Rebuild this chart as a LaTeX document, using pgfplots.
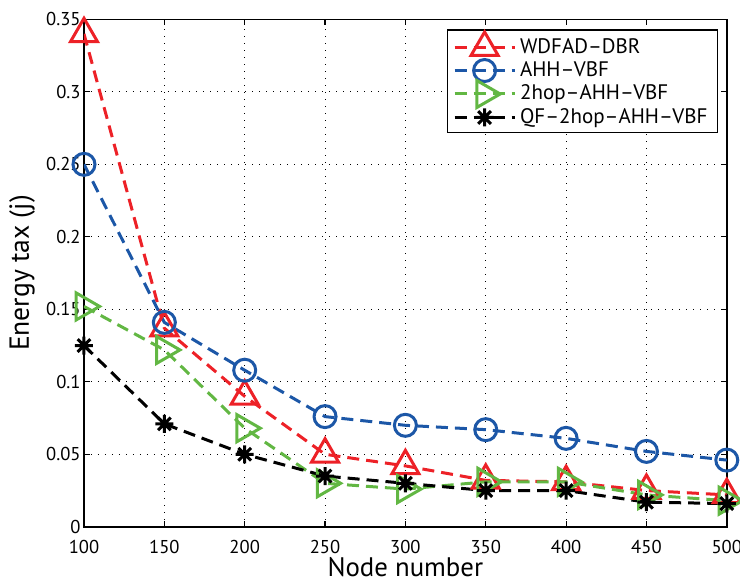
\documentclass[border=0pt]{standalone}
\usepackage{fontspec}
\setmainfont{PT Sans}
\usepackage{pgfplots}
\pgfplotsset{compat=1.18}
\definecolor{cred}{RGB}{237,33,39}
\definecolor{cblue}{RGB}{28,87,167}
\definecolor{cgreen}{RGB}{98,183,67}
% MATLAB-style eight-armed asterisk
\pgfdeclareplotmark{ast8}{%
  \pgfpathmoveto{\pgfqpoint{0pt}{\pgfplotmarksize}}%
  \pgfpathlineto{\pgfqpoint{0pt}{-\pgfplotmarksize}}%
  \pgfpathmoveto{\pgfqpoint{\pgfplotmarksize}{0pt}}%
  \pgfpathlineto{\pgfqpoint{-\pgfplotmarksize}{0pt}}%
  \pgfpathmoveto{\pgfqpoint{0.707\pgfplotmarksize}{0.707\pgfplotmarksize}}%
  \pgfpathlineto{\pgfqpoint{-0.707\pgfplotmarksize}{-0.707\pgfplotmarksize}}%
  \pgfpathmoveto{\pgfqpoint{0.707\pgfplotmarksize}{-0.707\pgfplotmarksize}}%
  \pgfpathlineto{\pgfqpoint{-0.707\pgfplotmarksize}{0.707\pgfplotmarksize}}%
  \pgfusepathqstroke}
\begin{document}
\begin{tikzpicture}
\begin{axis}[
    scale only axis,
    width=321.4pt, height=253.7pt,
    xmin=100, xmax=500, ymin=0, ymax=0.35,
    xtick={100,150,200,250,300,350,400,450,500},
    ytick={0,0.05,0.1,0.15,0.2,0.25,0.3,0.35},
    yticklabel style={/pgf/number format/fixed,/pgf/number format/precision=2,
        anchor=east, inner xsep=1.5pt},
    /pgf/number format/assume math mode=true,
    ticklabel style={font=\fontsize{9.3}{11}\selectfont},
    xticklabel style={inner ysep=1pt, yshift=-5.6pt},
    tick align=inside, major tick length=3pt,
    tick style={black, line width=0.6pt},
    axis line style={line width=0.8pt},
    grid=major,
    major grid style={black, line width=0.5pt, dash pattern=on 0.5pt off 3pt},
    xlabel={Node number}, ylabel={Energy tax (j)},
    every axis x label/.style={at={(rel axis cs:0.5,0)}, anchor=base, yshift=-25pt,
        font=\fontsize{13.4}{16}\selectfont, inner sep=1pt},
    every axis y label/.style={at={(rel axis cs:0,0.5)}, xshift=-31pt, rotate=90, anchor=center,
        font=\fontsize{13.8}{16}\selectfont},
    legend style={at={(rel axis cs:1,1)}, anchor=north east, xshift=-4.4pt, yshift=-5pt,
        draw=black, line width=0.6pt, font=\fontsize{10.5}{12}\selectfont,
        inner xsep=3pt, inner ysep=1pt, row sep=-1.5pt, cells={anchor=west}},
    legend image code/.code={\draw[mark repeat=2,mark phase=2] plot coordinates {(0pt,0pt) (15pt,0pt) (30pt,0pt)};},
    every axis plot/.append style={line width=1.5pt, dash pattern=on 6pt off 3.5pt},
]
\addplot[cred, mark=triangle, mark size=7.8pt, mark options={solid}] coordinates {
(100,0.340) (150,0.137) (200,0.090) (250,0.050) (300,0.042)
(350,0.032) (400,0.031) (450,0.025) (500,0.022)};
\addlegendentry{WDFAD--DBR}
\addplot[cblue, mark=o, mark size=5.5pt, mark options={solid}] coordinates {
(100,0.250) (150,0.141) (200,0.108) (250,0.076) (300,0.070)
(350,0.067) (400,0.061) (450,0.052) (500,0.046)};
\addlegendentry{AHH--VBF}
\addplot[cgreen, mark=triangle, mark size=7.8pt, mark options={solid, rotate=-90}] coordinates {
(100,0.152) (150,0.122) (200,0.068) (250,0.030) (300,0.026)
(350,0.031) (400,0.031) (450,0.022) (500,0.018)};
\addlegendentry{2hop--AHH--VBF}
\addplot[black, mark=ast8, mark size=4.5pt, mark options={solid}] coordinates {
(100,0.125) (150,0.071) (200,0.050) (250,0.035) (300,0.030)
(350,0.025) (400,0.025) (450,0.017) (500,0.016)};
\addlegendentry{QF--2hop--AHH--VBF}
\coordinate (sw) at (rel axis cs:0,0);
\coordinate (ne) at (rel axis cs:1,1);
\end{axis}
\pgfresetboundingbox
\path ([xshift=-42pt,yshift=-27.2pt]sw) rectangle ([xshift=6.6pt,yshift=9.7pt]ne);
\end{tikzpicture}
\end{document}
